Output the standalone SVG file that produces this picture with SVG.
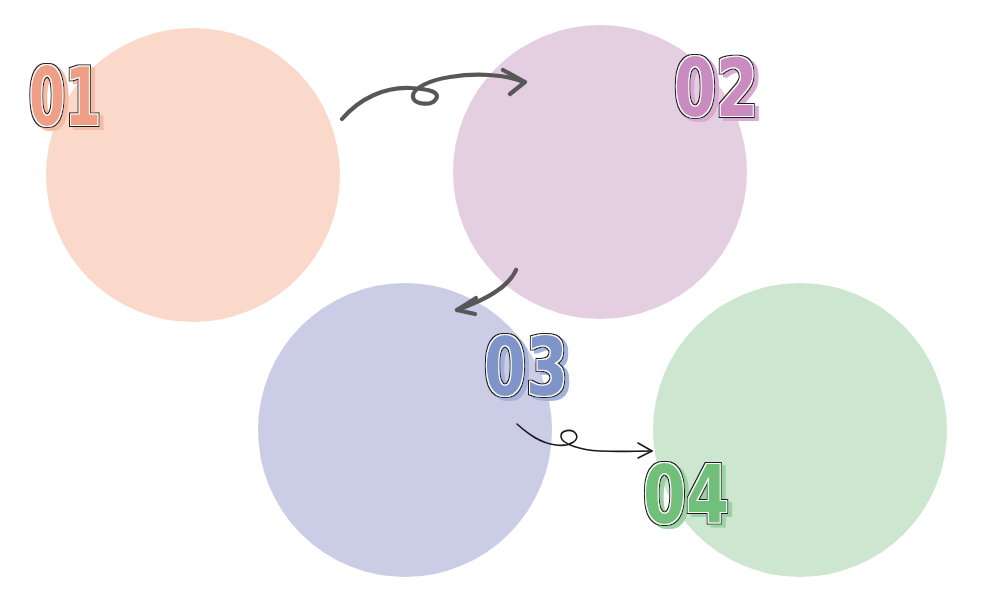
<svg xmlns="http://www.w3.org/2000/svg" width="982" height="595" viewBox="0 0 982 595">
<style>
.num{font-family:"DejaVu Sans Condensed","DejaVu Sans","Liberation Sans",sans-serif;font-weight:bold;font-size:81px}
.thick{fill:none;stroke:#575757;stroke-width:4.2;stroke-linecap:round;stroke-linejoin:round}
.thin{fill:none;stroke:#1a1a1a;stroke-width:1.6;stroke-linecap:round;stroke-linejoin:round}
</style>
<defs>
<filter id="f1" x="-10%" y="-15%" width="130%" height="140%">
<feMorphology in="SourceAlpha" operator="dilate" radius="2.2" result="d2"/>
<feMorphology in="SourceAlpha" operator="dilate" radius="1.1" result="d1"/>
<feFlood flood-color="#F5BBA6"/><feComposite in2="d2" operator="in"/><feOffset dx="4" dy="3" result="sh"/>
<feFlood flood-color="#1a1a1a"/><feComposite in2="d2" operator="in" result="blk"/>
<feFlood flood-color="#ffffff"/><feComposite in2="d1" operator="in" result="wht"/>
<feMerge><feMergeNode in="sh"/><feMergeNode in="blk"/><feMergeNode in="wht"/><feMergeNode in="SourceGraphic"/></feMerge>
</filter>
<filter id="f2" x="-10%" y="-15%" width="130%" height="140%">
<feMorphology in="SourceAlpha" operator="dilate" radius="2.2" result="d2"/>
<feMorphology in="SourceAlpha" operator="dilate" radius="1.1" result="d1"/>
<feFlood flood-color="#D9ABD2"/><feComposite in2="d2" operator="in"/><feOffset dx="4" dy="3" result="sh"/>
<feFlood flood-color="#1a1a1a"/><feComposite in2="d2" operator="in" result="blk"/>
<feFlood flood-color="#ffffff"/><feComposite in2="d1" operator="in" result="wht"/>
<feMerge><feMergeNode in="sh"/><feMergeNode in="blk"/><feMergeNode in="wht"/><feMergeNode in="SourceGraphic"/></feMerge>
</filter>
<filter id="f3" x="-10%" y="-15%" width="130%" height="140%">
<feMorphology in="SourceAlpha" operator="dilate" radius="2.2" result="d2"/>
<feMorphology in="SourceAlpha" operator="dilate" radius="1.1" result="d1"/>
<feFlood flood-color="#A3B1DB"/><feComposite in2="d2" operator="in"/><feOffset dx="4" dy="3" result="sh"/>
<feFlood flood-color="#1a1a1a"/><feComposite in2="d2" operator="in" result="blk"/>
<feFlood flood-color="#ffffff"/><feComposite in2="d1" operator="in" result="wht"/>
<feMerge><feMergeNode in="sh"/><feMergeNode in="blk"/><feMergeNode in="wht"/><feMergeNode in="SourceGraphic"/></feMerge>
</filter>
<filter id="f4" x="-10%" y="-15%" width="130%" height="140%">
<feMorphology in="SourceAlpha" operator="dilate" radius="2.2" result="d2"/>
<feMorphology in="SourceAlpha" operator="dilate" radius="1.1" result="d1"/>
<feFlood flood-color="#9AD3A1"/><feComposite in2="d2" operator="in"/><feOffset dx="4" dy="3" result="sh"/>
<feFlood flood-color="#1a1a1a"/><feComposite in2="d2" operator="in" result="blk"/>
<feFlood flood-color="#ffffff"/><feComposite in2="d1" operator="in" result="wht"/>
<feMerge><feMergeNode in="sh"/><feMergeNode in="blk"/><feMergeNode in="wht"/><feMergeNode in="SourceGraphic"/></feMerge>
</filter>
</defs>
<rect width="982" height="595" fill="#ffffff"/>
<g id="node1">
<circle cx="193" cy="175" r="147" fill="#FAD9CA"/>
<text class="num" x="29" y="125" textLength="72" lengthAdjust="spacingAndGlyphs" fill="#EF9F86" filter="url(#f1)">01</text>
</g>
<g id="node2">
<circle cx="600" cy="172" r="147" fill="#E4CEE2"/>
<text class="num" x="674" y="116" textLength="84" lengthAdjust="spacingAndGlyphs" fill="#C98BC0" filter="url(#f2)">02</text>
</g>
<g id="node3">
<circle cx="405" cy="430" r="147" fill="#CBCDE7"/>
<text class="num" x="484" y="395" textLength="84" lengthAdjust="spacingAndGlyphs" fill="#7F95C9" filter="url(#f3)">03</text>
</g>
<g id="node4">
<circle cx="800" cy="430" r="147" fill="#CDE6D0"/>
<text class="num" x="643" y="523" textLength="86" lengthAdjust="spacingAndGlyphs" fill="#6FBF7A" filter="url(#f4)">04</text>
</g>
<g id="connectors">
<path class="thick" d="M342,119 C360,98 385,87 410,88 C430,89 440,92 436,99 C432,106 414,105 413,97 C412,88 430,80 450,77 C475,73 505,74 524,82"/>
<path class="thick" d="M503,70 L525,82 L510,94"/>
<path class="thick" d="M516,270 C508,288 485,300 457,310"/>
<path class="thick" d="M476,298 L457,310 L475,314"/>
<path class="thin" d="M517,424 C528,434 540,443 556,445 C570,447 580,440 576,434 C572,428 560,430 561,437 C562,444 580,450 600,451 C620,452 635,451 652,451"/>
<path class="thin" d="M638,443 L652,451 L638,458"/>
</g>
</svg>
